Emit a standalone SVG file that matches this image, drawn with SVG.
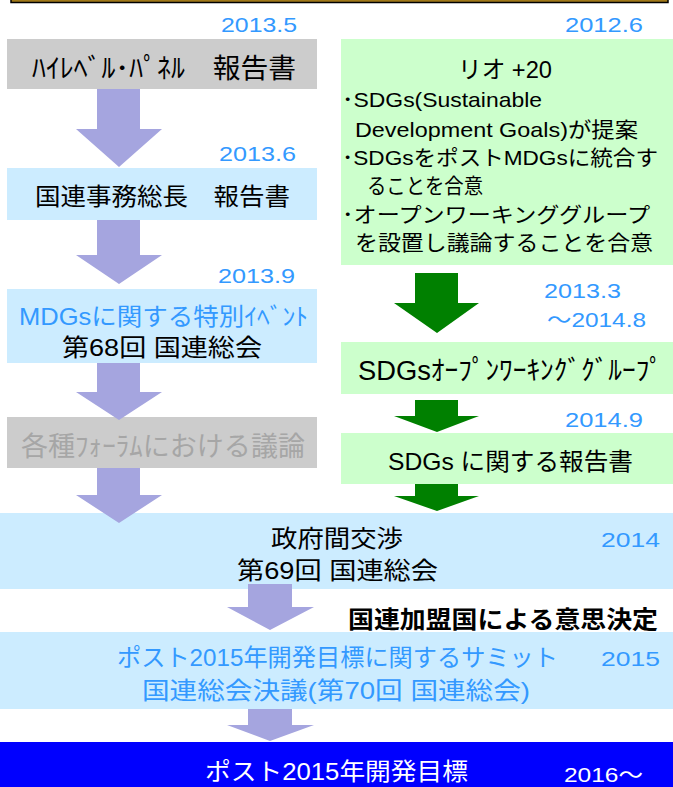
<svg xmlns="http://www.w3.org/2000/svg" width="673" height="787" viewBox="0 0 673 787">
<style>
.jp{font-family:"Liberation Sans","Noto Sans CJK JP",sans-serif;font-size:24px;fill:#000}
.hk{font-size:27px}
.dt{font-family:"Liberation Sans","Noto Sans CJK JP",sans-serif;font-size:21px;fill:#3399FF}
.sm{font-family:"Liberation Sans","Noto Sans CJK JP",sans-serif;font-size:21px;fill:#000}
.bd{font-family:"Noto Sans CJK JP",sans-serif;font-size:24px;font-weight:bold;fill:#000}
.jp.bl{fill:#3399FF}
.jp.gr{fill:#A6A6A6}
.jp.wh,.dt.wh{fill:#FFFFFF}
.gray{fill:#CCCCCC}
.lb{fill:#CCECFF}
.lg{fill:#CCFFCC}
.pa{fill:#A5A5DF}
.ga{fill:#008000}
</style>
<rect x="11" y="-12" width="657" height="14.5" fill="#A07818" stroke="#000" stroke-width="1.5"/>
<g id="hlp">
<text class="dt" x="221" y="32" textLength="76" lengthAdjust="spacingAndGlyphs">2013.5</text>
<rect class="gray" x="7" y="39" width="310" height="50"/>
<text class="jp hk" x="32" y="78" textLength="264" lengthAdjust="spacingAndGlyphs">ﾊｲﾚﾍﾞﾙ･ﾊﾟﾈﾙ　報告書</text>
</g>
<g id="rio">
<text class="dt" x="565" y="32" textLength="78" lengthAdjust="spacingAndGlyphs">2012.6</text>
<rect class="lg" x="341" y="39" width="332" height="226"/>
<text class="jp" x="458" y="78" textLength="94" lengthAdjust="spacingAndGlyphs">リオ +20</text>
<text class="sm" x="342" y="107" textLength="200" lengthAdjust="spacingAndGlyphs">･SDGs(Sustainable</text>
<text class="sm" x="355" y="137" textLength="283" lengthAdjust="spacingAndGlyphs">Development Goals)が提案</text>
<text class="sm" x="342" y="165" textLength="316" lengthAdjust="spacingAndGlyphs">･SDGsをポストMDGsに統合す</text>
<text class="sm" x="367" y="193" textLength="116" lengthAdjust="spacingAndGlyphs">ることを合意</text>
<text class="sm" x="342" y="222" textLength="308" lengthAdjust="spacingAndGlyphs">･オープンワーキンググループ</text>
<text class="sm" x="355" y="250" textLength="298" lengthAdjust="spacingAndGlyphs">を設置し議論することを合意</text>
</g>
<g id="sg">
<text class="dt" x="219" y="161" textLength="77" lengthAdjust="spacingAndGlyphs">2013.6</text>
<rect class="lb" x="7" y="168" width="310" height="52"/>
<text class="jp" x="35" y="205" textLength="255" lengthAdjust="spacingAndGlyphs">国連事務総長　報告書</text>
</g>
<g id="mdgs">
<text class="dt" x="218" y="283" textLength="77" lengthAdjust="spacingAndGlyphs">2013.9</text>
<rect class="lb" x="7" y="289" width="310" height="74"/>
<text class="jp bl" x="19" y="325" textLength="289" lengthAdjust="spacingAndGlyphs">MDGsに関する特別ｲﾍﾞﾝﾄ</text>
<text class="jp" x="62" y="356" textLength="200" lengthAdjust="spacingAndGlyphs">第68回 国連総会</text>
</g>
<g id="forum">
<rect class="gray" x="7" y="417" width="310" height="51"/>
<text class="jp gr hk" x="21" y="456" textLength="284" lengthAdjust="spacingAndGlyphs">各種ﾌｫｰﾗﾑにおける議論</text>
</g>
<g id="owg">
<text class="dt" x="544" y="298" textLength="77" lengthAdjust="spacingAndGlyphs">2013.3</text>
<text class="dt" x="547" y="327" textLength="99" lengthAdjust="spacingAndGlyphs">～2014.8</text>
<rect class="lg" x="341" y="342" width="332" height="52"/>
<text class="jp hk" x="358" y="380" textLength="305" lengthAdjust="spacingAndGlyphs">SDGsｵｰﾌﾟﾝﾜｰｷﾝｸﾞｸﾞﾙｰﾌﾟ</text>
</g>
<g id="report">
<text class="dt" x="565" y="427" textLength="78" lengthAdjust="spacingAndGlyphs">2014.9</text>
<rect class="lg" x="341" y="433" width="332" height="51"/>
<text class="jp" x="388" y="470" textLength="245" lengthAdjust="spacingAndGlyphs">SDGs に関する報告書</text>
</g>
<g id="igov">
<rect class="lb" x="0" y="513" width="673" height="76"/>
<text class="jp" x="271" y="547" textLength="132" lengthAdjust="spacingAndGlyphs">政府間交渉</text>
<text class="jp" x="237" y="579" textLength="201" lengthAdjust="spacingAndGlyphs">第69回 国連総会</text>
<text class="dt" x="601" y="547" textLength="59" lengthAdjust="spacingAndGlyphs">2014</text>
</g>
<g id="decision">
<text class="bd" x="348" y="628" textLength="310" lengthAdjust="spacingAndGlyphs">国連加盟国による意思決定</text>
</g>
<g id="summit">
<rect class="lb" x="0" y="632" width="673" height="77"/>
<text class="jp bl" x="117" y="666" textLength="441" lengthAdjust="spacingAndGlyphs">ポスト2015年開発目標に関するサミット</text>
<text class="jp bl" x="142" y="699" textLength="388" lengthAdjust="spacingAndGlyphs">国連総会決議(第70回 国連総会)</text>
<text class="dt" x="601" y="666" textLength="59" lengthAdjust="spacingAndGlyphs">2015</text>
</g>
<g id="goals">
<rect x="0" y="742" width="673" height="45" fill="#0000FF"/>
<text class="jp wh" x="205" y="780" textLength="263" lengthAdjust="spacingAndGlyphs">ポスト2015年開発目標</text>
<text class="dt wh" x="564" y="782" textLength="79" lengthAdjust="spacingAndGlyphs">2016～</text>
</g>
<g id="connectors">
<polygon class="pa" points="97,89 140,89 140,129 162,129 119,167 76,129 97,129"/>
<polygon class="pa" points="97,220 140,220 140,255 162,255 119,284 76,255 97,255"/>
<polygon class="pa" points="97,363 140,363 140,392 162,392 119,420 76,392 97,392"/>
<polygon class="pa" points="97,468 140,468 140,495 162,495 119,523 76,495 97,495"/>
<polygon class="pa" points="248,584 292,584 292,607 314,607 270,630 227,607 248,607"/>
<polygon class="pa" points="248,709 292,709 292,725 314,725 270,741 227,725 248,725"/>
<polygon class="ga" points="415,273 458,273 458,303 479,303 437,333 394,303 415,303"/>
<polygon class="ga" points="415,400 458,400 458,416 479,416 437,432 394,416 415,416"/>
<polygon class="ga" points="415,484 458,484 458,496 479,496 437,511 394,496 415,496"/>
</g>
</svg>
